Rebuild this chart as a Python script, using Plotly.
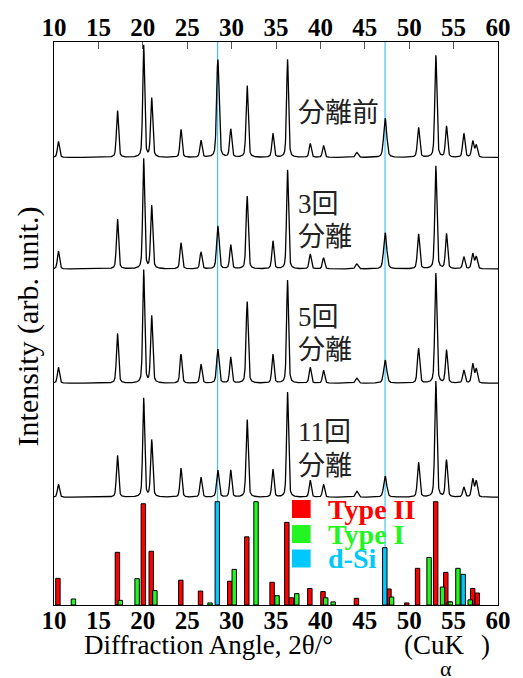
import numpy as np
import plotly.graph_objects as go

# ---- Data ----
peak_pos = [10.5, 17.15, 20.1, 21.0, 24.3, 26.55, 28.45, 29.9, 31.75, 34.65, 36.3,
            38.85, 40.35, 44.1, 47.3, 51.05, 53.0, 54.2, 56.15, 57.15, 57.55]
peak_fwhm = [0.28, 0.28, 0.26, 0.28, 0.28, 0.28, 0.32, 0.28, 0.28, 0.28, 0.26,
             0.28, 0.28, 0.35, 0.40, 0.30, 0.28, 0.28, 0.30, 0.30, 0.30]

h_before = [16, 47, 112, 59, 28, 17, 98, 28, 72, 24, 98, 14, 12, 5, 39, 30, 102, 31, 24, 16, 12]
h_3 = [18, 50, 110, 63, 26, 17, 43, 24, 73, 28, 99, 15, 11, 5, 36, 35, 103, 35, 12, 15, 12]
h_5 = [16, 50, 113, 67, 29, 19, 34, 26, 82, 29, 103, 16, 13, 5, 23, 35, 110, 33, 13, 19, 14]
h_11 = [13, 42, 99, 57, 29, 20, 27, 27, 78, 28, 105, 17, 13, 6, 21, 35, 116, 37, 10, 18, 16]

offsets = {"before": 447.5, "3": 336.0, "5": 221.7, "11": 107.7}

# reference bars (relative intensity, %)
typeII_x = [10.44, 17.14, 20.06, 20.95, 24.28, 26.5, 29.79, 31.71, 34.56, 36.22, 36.74,
            38.81, 40.29, 44.06, 47.72, 49.72, 50.94, 52.98, 54.12, 54.5, 57.15, 57.67]
typeII_y = [25.8, 51, 98, 52, 24, 13.5, 23, 66, 22, 80, 7, 16, 13, 6.5, 15.5, 2, 35.5,
            100, 31.6, 3, 16, 11.6]
typeI_x = [12.19, 17.47, 19.36, 21.36, 27.57, 30.3, 32.75, 35.12, 37.34, 40.6, 41.44,
           48.02, 52.24, 53.75, 54.64, 55.49, 56.87]
typeI_y = [5.8, 4.5, 25.5, 14, 2, 34.5, 100, 9, 11, 7, 3, 7.7, 46, 17.4, 3, 35.5, 5]
dsi_x = [28.39, 47.25, 56.08]
dsi_y = [100, 55.5, 29.7]

si_lines = [28.42, 47.28]

x_ticks = list(range(10, 61, 5))

# label lines: (text, spectrum, height above baseline)
label_lines = [("分離前", "before", 45),
               ("3回", "3", 65), ("分離", "3", 32),
               ("5回", "5", 66), ("分離", "5", 33.5),
               ("11回", "11", 65), ("分離", "11", 31)]

# ---- Build profiles ----
tt = np.arange(10, 60.0001, 0.02)


def profile(heights):
    y = np.zeros_like(tt)
    for p, w, h in zip(peak_pos, peak_fwhm, heights):
        g = np.exp(-4 * np.log(2) * ((tt - p) / w) ** 2)
        lo = 1 / (1 + 4 * ((tt - p) / w) ** 2)
        y += h * (0.6 * g + 0.4 * lo)
    return y


fig = go.Figure()
for key, hs in [("before", h_before), ("3", h_3), ("5", h_5), ("11", h_11)]:
    fig.add_trace(go.Scatter(x=tt, y=profile(hs) + offsets[key], mode="lines",
                             line=dict(color="black", width=1.3), showlegend=False,
                             hoverinfo="skip"))

for xs, ys, col in [(typeII_x, typeII_y, "#ff0000"), (typeI_x, typeI_y, "#22f522"),
                    (dsi_x, dsi_y, "#00c8ff")]:
    fig.add_trace(go.Bar(x=xs, y=ys, width=0.5,
                         marker=dict(color=col, line=dict(color="black", width=1)),
                         yaxis="y2", showlegend=False, hoverinfo="skip"))

# invisible trace to anchor top axis
fig.add_trace(go.Scatter(x=[10, 60], y=[0, 0], xaxis="x2", mode="markers",
                         marker=dict(opacity=0), showlegend=False, hoverinfo="skip"))

for s in si_lines:
    fig.add_shape(type="line", xref="x", yref="paper", x0=s, x1=s, y0=0, y1=1,
                  line=dict(color="#3cc4f2", width=1.2), layer="below")

tickfont = dict(family="Liberation Serif", size=25, color="black")
fig.update_layout(
    width=523, height=678,
    margin=dict(l=54, r=18, t=42, b=73),
    plot_bgcolor="white", paper_bgcolor="white",
    barmode="overlay",
    xaxis=dict(range=[10, 60], tickvals=x_ticks, ticktext=[f"<b>{t}</b>" for t in x_ticks],
               ticks="", showline=True, mirror=True, linecolor="black", linewidth=1,
               showgrid=False, zeroline=False, tickfont=tickfont, ticklabelstandoff=-7),
    xaxis2=dict(range=[10, 60], overlaying="x", side="top", tickvals=x_ticks,
                ticktext=[f"<b>{t}</b>" for t in x_ticks], ticks="inside", ticklen=7,
                tickcolor="#555", showgrid=False, zeroline=False, tickfont=tickfont),
    yaxis=dict(range=[0, 563], showticklabels=False, ticks="", showline=True, mirror=True,
               linecolor="black", linewidth=1, showgrid=False, zeroline=False),
    yaxis2=dict(range=[0, 545], overlaying="y", showticklabels=False, ticks="",
                showgrid=False, zeroline=False),
)

# spectrum labels
lab_font = dict(family="Liberation Serif, Noto Sans CJK JP", size=27, color="#222")
for text, key, dy in label_lines:
    fig.add_annotation(x=37.2, y=offsets[key] + dy, xref="x", yref="y",
                       text=text, showarrow=False, xanchor="left", yanchor="middle",
                       align="left", font=lab_font)

# legend
leg = [("Type II", "#ff0000", 0.1705), ("Type I", "#22f522", 0.126), ("d-Si", "#00c8ff", 0.0826)]
for name, col, yc in leg:
    fig.add_shape(type="rect", xref="paper", yref="paper", x0=0.536, x1=0.578,
                  y0=yc - 0.016, y1=yc + 0.016, fillcolor=col, line=dict(width=0))
    fig.add_annotation(x=0.612, y=yc, xref="paper", yref="paper", text=f"<b>{name}</b>",
                       showarrow=False, xanchor="left", yanchor="middle",
                       font=dict(family="Liberation Serif", size=28, color=col))

# axis titles
title_font = dict(family="Liberation Serif", size=27, color="black")
fig.add_annotation(x=0.064, y=-0.071, xref="paper", yref="paper",
                   text="Diffraction Angle, 2θ/°", showarrow=False,
                   xanchor="left", yanchor="middle", font=title_font)
fig.add_annotation(x=0.783, y=-0.071, xref="paper", yref="paper",
                   text="(CuK", showarrow=False,
                   xanchor="left", yanchor="middle", font=title_font)
fig.add_annotation(x=0.958, y=-0.071, xref="paper", yref="paper",
                   text=")", showarrow=False,
                   xanchor="left", yanchor="middle", font=title_font)
fig.add_annotation(x=0.8825, y=-0.113, xref="paper", yref="paper", text="α", showarrow=False,
                   xanchor="center", yanchor="middle",
                   font=dict(family="Liberation Serif", size=22, color="black"))
fig.add_annotation(x=-0.0576, y=0.4956, xref="paper", yref="paper",
                   text="Intensity (arb. unit.)", showarrow=False, textangle=-90,
                   xanchor="center", yanchor="middle",
                   font=dict(family="Liberation Serif", size=30, color="black"))

fig.write_html("out.html")
